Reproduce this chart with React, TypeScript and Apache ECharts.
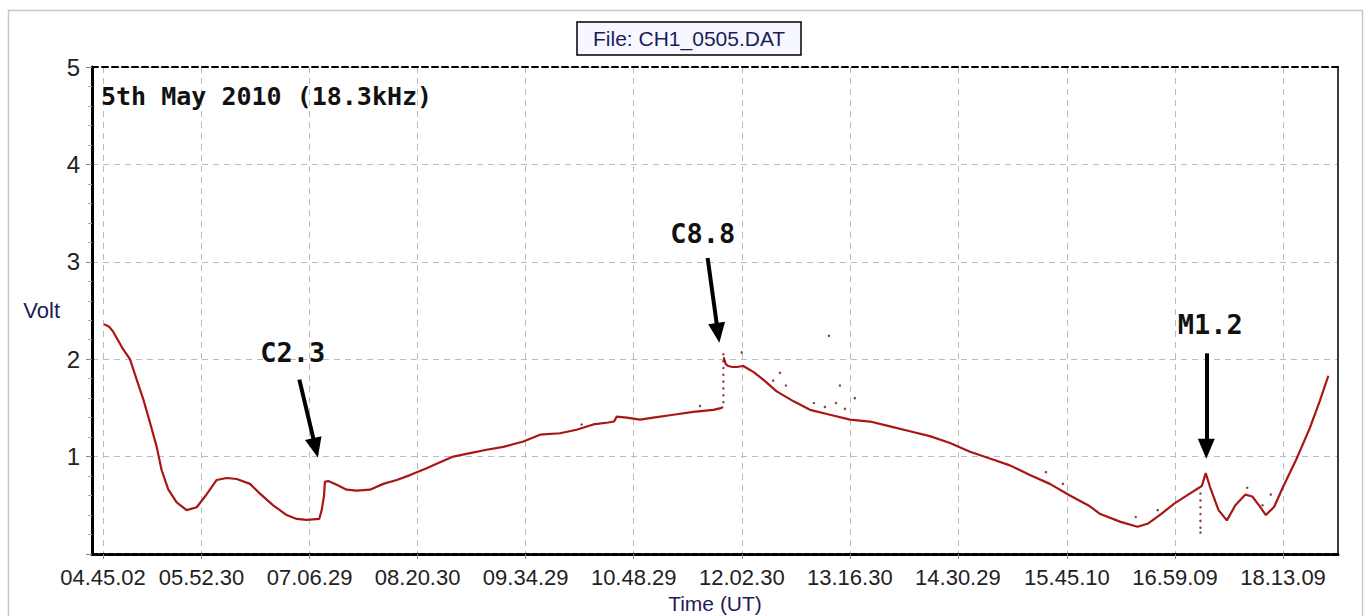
import React, { useEffect, useRef } from "react";
import * as echarts from "echarts";

// X tick labels (UT), as printed under the axis
const tickLabels = [
  "04.45.02", "05.52.30", "07.06.29", "08.20.30", "09.34.29", "10.48.29",
  "12.02.30", "13.16.30", "14.30.29", "15.45.10", "16.59.09", "18.13.09",
];

// Main trace: time in minutes after midnight (UT) and signal in volts ("-" = gap)
const timeMin = [
  285.7, 289.5, 292.1, 298.9, 303.5, 308.1, 312.6, 317.2, 321.8, 325.2,
  329.8, 335.5, 342.3, 349.2, 354.9, 362.9, 369.7, 376.6, 385.7, 392.5,
  401.6, 410.8, 417.7, 424.5, 433.1, 434.8, 436.4, 437.0, 439.3, 445.1,
  451.9, 458.8, 467.9, 477.0, 486.2, 495.3, 506.7, 511.2, 524.9, 536.4,
  547.8, 559.2, 572.9, 584.3, 598.0, 609.4, 620.8, 631.1, 635.0, 636.8,
  643.7, 652.8, 661.9, 675.6, 689.3, 703.0, 708.7, 709.6, 709.8, 710.1,
  711.5, 713.3, 716.0, 719.0, 723.5, 727.0, 730.4, 737.2, 746.4, 757.7,
  769.2, 782.9, 796.6, 810.3, 824.0, 837.6, 851.3, 865.1, 878.8, 892.4,
  906.1, 919.8, 933.5, 947.2, 960.9, 968.0, 981.9, 993.5, 1000.4, 1009.6,
  1018.9, 1028.2, 1035.6, 1037.6, 1040.2, 1043.1, 1049.0, 1054.7, 1060.5, 1067.4,
  1072.1, 1076.7, 1081.4, 1087.1, 1092.9, 1102.2, 1111.4, 1118.3, 1124.2,
];
const volt: (number | string)[] = [
  2.36, 2.33, 2.28, 2.10, 2.00, 1.79, 1.59, 1.35, 1.10, 0.86,
  0.66, 0.53, 0.45, 0.48, 0.59, 0.76, 0.78, 0.77, 0.72, 0.62,
  0.50, 0.40, 0.36, 0.35, 0.36, 0.45, 0.60, 0.74, 0.75, 0.71,
  0.66, 0.65, 0.66, 0.72, 0.76, 0.81, 0.88, 0.91, 1.00, 1.035,
  1.07, 1.10, 1.155, 1.225, 1.24, 1.276, 1.33, 1.35, 1.36, 1.41,
  1.40, 1.38, 1.40, 1.43, 1.46, 1.48, 1.50, 1.51, "-", 2.02,
  1.95, 1.93, 1.92, 1.92, 1.93, 1.90, 1.87, 1.79, 1.67, 1.57,
  1.48, 1.43, 1.38, 1.36, 1.31, 1.26, 1.21, 1.14, 1.05, 0.98,
  0.91, 0.81, 0.72, 0.60, 0.49, 0.41, 0.33, 0.28, 0.31, 0.41,
  0.52, 0.61, 0.68, 0.70, 0.83, 0.69, 0.45, 0.345, 0.50, 0.61,
  0.59, 0.50, 0.40, 0.485, 0.68, 0.97, 1.29, 1.57, 1.83,
];

// Isolated sample dots (outliers / fast transitions)
const dotTime = [
  709.9, 709.9, 709.9, 709.9, 709.9, 709.9, 709.9, 709.9,
  722.4, 744.0, 748.6, 752.7, 771.9, 779.4, 782.2, 787.0, 789.7, 793.1, 799.9,
  612.8, 693.9, 930.8, 942.4, 992.3, 1007.3,
  1036.6, 1036.6, 1036.6, 1036.6, 1036.6, 1036.6, 1036.6,
  1068.6, 1079.1, 1084.8,
];
const dotVolt = [
  1.56, 1.63, 1.70, 1.77, 1.84, 1.91, 1.98, 2.05,
  2.07, 1.78, 1.86, 1.73, 1.55, 1.51, 2.24, 1.55, 1.73, 1.49, 1.60,
  1.33, 1.52, 0.84, 0.72, 0.38, 0.45,
  0.62, 0.55, 0.48, 0.41, 0.34, 0.27, 0.22,
  0.68, 0.50, 0.61,
];

// Flare annotations
const flareNames = ["C2.3", "C8.8", "M1.2"];
const flareLabelTime = [415.0, 695.8, 1043.3];
const flareLabelVolt = [2.07, 3.29, 2.36];
const arrowFromTime = [419.5, 699.1, 1040.6];
const arrowFromVolt = [1.79, 3.04, 2.06];
const arrowToTime = [430.6, 706.2, 1040.6];
const arrowToVolt = [1.09, 2.27, 1.08];

const xMin = 277.5;
const xMax = 1130.8;

const toMin = (s: string) => {
  const [h, m, sec] = s.split(".").map(Number);
  return h * 60 + m + sec / 60;
};
const tickMinutes = tickLabels.map(toMin);

const labelFor = (v: number) => {
  let best = 0;
  let bd = Infinity;
  tickMinutes.forEach((t, i) => {
    const d = Math.abs(t - v);
    if (d < bd) {
      bd = d;
      best = i;
    }
  });
  return bd < 1 ? tickLabels[best] : "";
};

const NARROW = "'Liberation Sans Narrow', 'Liberation Sans', Arial, sans-serif";
const SANS = "'Liberation Sans', Arial, sans-serif";
const MONO = "'DejaVu Sans Mono', monospace";
const NAVY = "#1c1c5c";

export default function App() {
  const ref = useRef<HTMLDivElement>(null);

  useEffect(() => {
    if (!ref.current) return;
    const chart = echarts.init(ref.current, undefined, { renderer: "svg" });

    const lineData = timeMin.map((t, i) => [t, volt[i]]);
    const dotData = dotTime.map((t, i) => [t, dotVolt[i]]);

    chart.setOption({
      animation: false,
      backgroundColor: "#ffffff",
      title: [
        {
          text: "File: CH1_0505.DAT",
          left: 577,
          top: 22,
          padding: [6, 16],
          borderColor: "#000",
          borderWidth: 1.5,
          backgroundColor: "#f7f7ff",
          textStyle: { fontFamily: SANS, fontSize: 21, fontWeight: "normal", color: NAVY },
        },
        {
          text: "5th May 2010 (18.3kHz)",
          left: 101,
          top: 84,
          padding: 0,
          textStyle: { fontFamily: MONO, fontSize: 25, fontWeight: "bold", color: "#111" },
        },
      ],
      graphic: [
        {
          type: "rect",
          silent: true,
          z: -10,
          shape: { x: 8.5, y: 10.5, width: 1354, height: 700 },
          style: { fill: "none", stroke: "#c8c8c8", lineWidth: 1.5 },
        },
      ],
      grid: { left: 92, right: 31, top: 67, bottom: 62, outerBoundsMode: "none" },
      xAxis: [
        {
          type: "value",
          min: xMin,
          max: xMax,
          name: "Time (UT)",
          nameLocation: "middle",
          nameGap: 36,
          nameTextStyle: { fontFamily: SANS, fontSize: 21, color: NAVY },
          axisLine: { onZero: false, lineStyle: { color: "#000", width: 3, type: [6, 2] } },
          axisTick: { show: true, customValues: tickMinutes, length: 5, lineStyle: { color: "#888" } },
          axisLabel: {
            customValues: tickMinutes,
            formatter: (v: number) => labelFor(v),
            hideOverlap: false,
            fontFamily: NARROW,
            fontSize: 22,
            color: "#222",
            margin: 12,
          },
          splitLine: { show: true, lineStyle: { color: "#bbbbbb", width: 1, type: [6, 5] } },
        },
        {
          type: "value",
          position: "top",
          min: xMin,
          max: xMax,
          axisLine: { show: true, onZero: false, lineStyle: { color: "#000", width: 2, type: [6, 4] } },
          axisTick: { show: false },
          axisLabel: { show: false },
          splitLine: { show: false },
        },
      ],
      yAxis: [
        {
          type: "value",
          min: 0,
          max: 5,
          interval: 1,
          name: "Volt",
          nameLocation: "middle",
          nameRotate: 0,
          nameGap: 32,
          nameTextStyle: { fontFamily: SANS, fontSize: 22, color: NAVY },
          axisLine: { show: true, onZero: false, lineStyle: { color: "#000", width: 3 } },
          axisTick: { show: true, length: 6, lineStyle: { color: "#888" } },
          minorTick: { show: true, splitNumber: 5, length: 4, lineStyle: { color: "#aaa" } },
          axisLabel: {
            showMinLabel: false,
            fontFamily: NARROW,
            fontSize: 24,
            color: "#222",
            margin: 12,
          },
          splitLine: { show: true, lineStyle: { color: "#bbbbbb", width: 1, type: [6, 5] } },
        },
        {
          type: "value",
          position: "right",
          min: 0,
          max: 5,
          interval: 1,
          axisLine: { show: true, onZero: false, lineStyle: { color: "#3a3a3a", width: 2 } },
          axisTick: { show: false },
          axisLabel: { show: false },
          splitLine: { show: false },
        },
      ],
      series: [
        {
          type: "line",
          name: "signal",
          data: lineData,
          showSymbol: false,
          symbol: "none",
          connectNulls: false,
          lineStyle: { color: "#a81616", width: 2.2 },
          z: 3,
          markLine: {
            silent: true,
            symbol: ["none", "triangle"],
            symbolSize: [17, 20],
            lineStyle: { color: "#000", width: 4, type: "solid" },
            label: { show: false },
            data: arrowFromTime.map((t, i) => [
              { coord: [t, arrowFromVolt[i]] },
              { coord: [arrowToTime[i], arrowToVolt[i]] },
            ]),
          },
          markPoint: {
            silent: true,
            symbol: "circle",
            symbolSize: 1,
            itemStyle: { color: "rgba(0,0,0,0)" },
            label: {
              show: true,
              position: "inside",
              formatter: "{b}",
              fontFamily: MONO,
              fontWeight: "bold",
              fontSize: 27,
              color: "#111",
            },
            data: flareNames.map((n, i) => ({ name: n, coord: [flareLabelTime[i], flareLabelVolt[i]] })),
          },
        },
        {
          type: "scatter",
          name: "samples",
          data: dotData,
          symbolSize: 2.5,
          itemStyle: { color: "#701414" },
          z: 4,
        },
      ],
    });

    return () => chart.dispose();
  }, []);

  return (
    <div
      ref={ref}
      style={{ position: "absolute", left: 0, top: 0, width: 1369, height: 616 }}
    />
  );
}
